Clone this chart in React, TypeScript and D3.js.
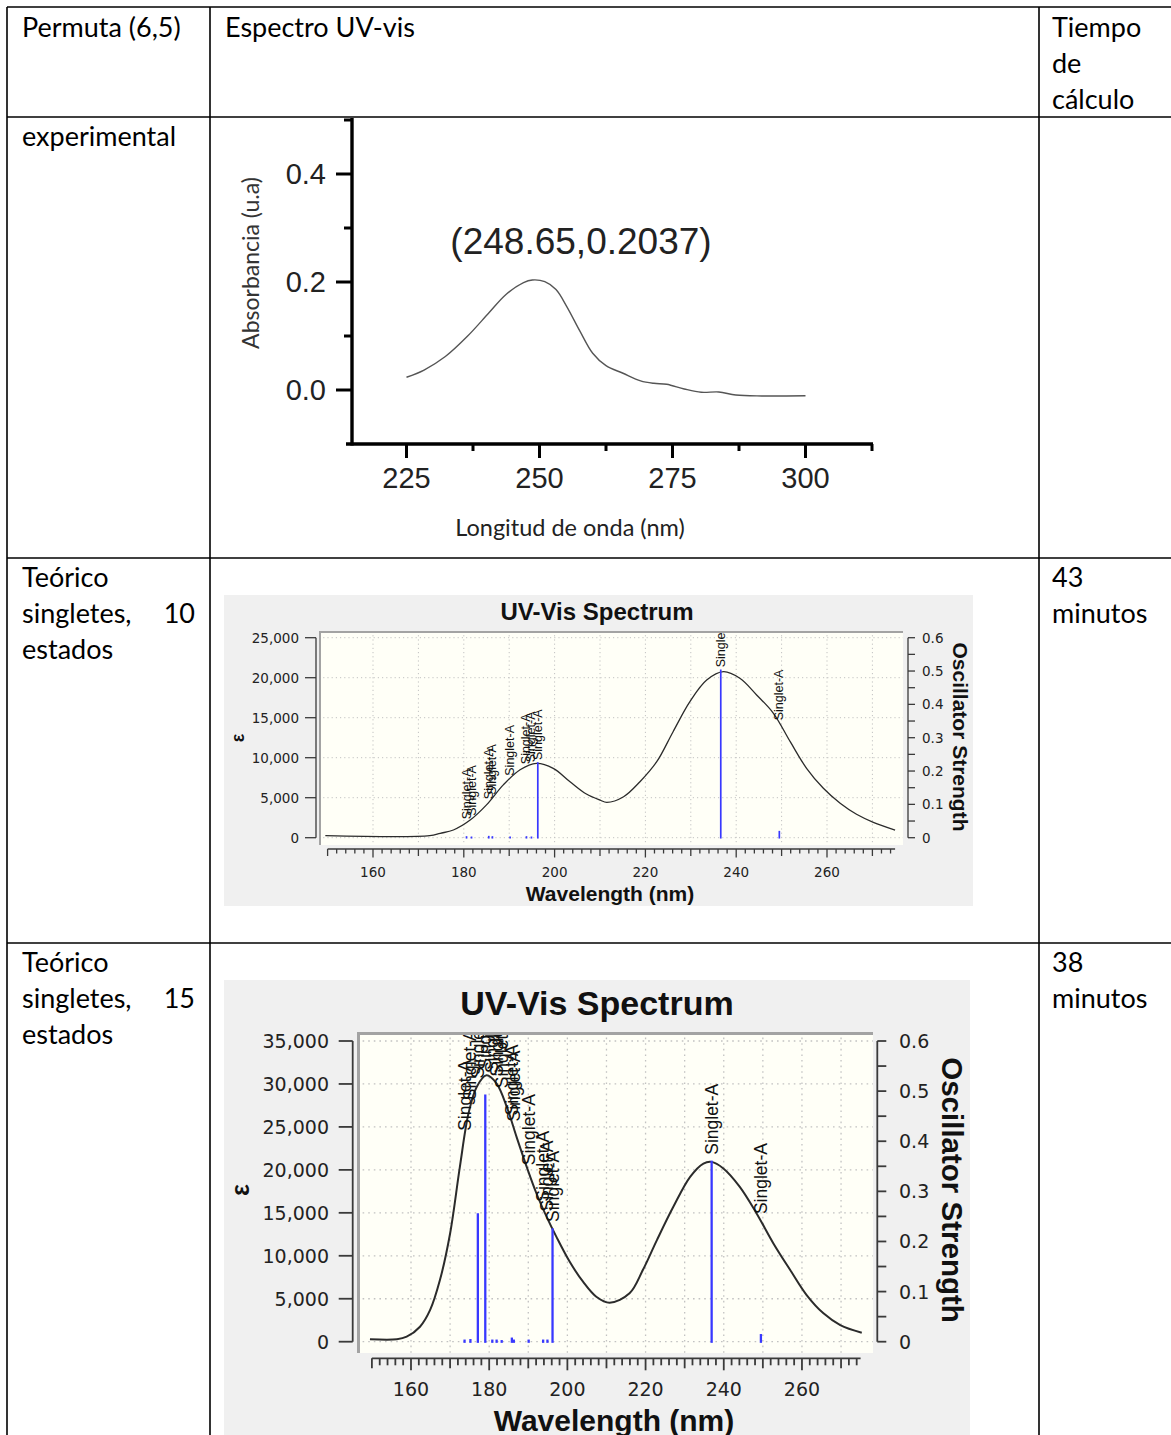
import * as d3 from "d3";
import { useEffect, useRef } from "react";

const WIDTH = 1171;
const HEIGHT = 1435;

// tabla
const colLines = [7, 210, 1039];
const rowLines = [7, 117, 558, 943];
const headerTexts = [["Permuta (6,5)"], ["Espectro UV-vis"], ["Tiempo", "de", "cálculo"]];
const rowTitles = [["experimental"], ["Teórico", "singletes,", "estados"], ["Teórico", "singletes,", "estados"]];
const rowStates = ["", "10", "15"];
const rowTimes = [[], ["43", "minutos"], ["38", "minutos"]];

// espectro experimental
const expWavelength = [225, 228.3, 232.3, 236.4, 240.5, 243.7, 247, 248.65, 251, 253.1, 255.1, 257.6, 260, 262.5, 265.7, 269, 271.5, 273.9, 277.2, 280.4, 283.7, 286.9, 291.8, 300];
const expAbsorbance = [0.0236, 0.037, 0.062, 0.099, 0.143, 0.177, 0.199, 0.2037, 0.2006, 0.186, 0.155, 0.109, 0.068, 0.045, 0.031, 0.017, 0.0124, 0.0106, 0.0019, -0.0043, -0.0037, -0.0093, -0.011, -0.0106];
const expYTicks = [0, 0.2, 0.4];
const expYMinor = [0.1, 0.3, 0.5];
const expXTicks = [225, 250, 275, 300];
const expXMinor = [237.5, 262.5, 287.5, 312.5];
const expPeakLabel = "(248.65,0.2037)";

// 10 estados
const wl10 = [149.5, 172.5, 174.8, 177.7, 181.4, 185, 188.7, 192.4, 196, 199.7, 203.4, 207, 210, 211.5, 215.2, 218.8, 222.5, 226.1, 229.8, 233.5, 237.2, 240.8, 244.5, 248.2, 251.9, 255.5, 259.2, 262.9, 266.5, 270.2, 275];
const eps10 = [250, 250, 550, 960, 2200, 4100, 6600, 8500, 9300, 8675, 7000, 5460, 4700, 4420, 5125, 7000, 9500, 13250, 17000, 19700, 20750, 19925, 17840, 15550, 12000, 8675, 6175, 4300, 2925, 1925, 960];
const stickWl10 = [180.6, 181.7, 185.5, 186.3, 190.2, 193.8, 194.9, 196.3, 236.6, 249.5];
const stickF10 = [0.002, 0.001, 0.003, 0.002, 0.001, 0.002, 0.001, 0.224, 0.502, 0.018];
const epsTicks10 = [0, 5000, 10000, 15000, 20000, 25000];

// 15 estados
const wl15 = [149.5, 156.4, 158.9, 162.3, 164.9, 167.4, 170, 172.5, 174.7, 176.8, 179.3, 181.9, 184.5, 187, 189.6, 192.1, 194.7, 197.2, 200.6, 204, 207.4, 210.8, 215.9, 219.3, 222.9, 227.1, 231.4, 234.8, 236.9, 239.9, 244.1, 248.4, 252.7, 257, 261.2, 265.5, 269.8, 275.3];
const eps15 = [280, 280, 580, 1745, 3700, 7170, 12600, 20350, 26550, 29650, 31000, 30050, 27330, 23840, 20350, 17250, 14530, 12200, 9300, 6980, 5230, 4535, 5630, 8340, 11830, 15700, 19190, 20740, 20930, 20160, 18020, 14930, 11440, 8340, 5430, 3300, 1940, 1050];
const stickWl15 = [173.7, 175.2, 177.1, 179.0, 180.8, 181.9, 183.2, 185.8, 186.3, 190.1, 193.8, 194.9, 196.2, 236.9, 249.5];
const stickF15 = [0.002, 0.003, 0.254, 0.491, 0.002, 0.002, 0.001, 0.006, 0.002, 0.002, 0.002, 0.002, 0.224, 0.359, 0.013];
const epsTicks15 = [0, 5000, 10000, 15000, 20000, 25000, 30000, 35000];

const oscTicks = [0, 0.1, 0.2, 0.3, 0.4, 0.5, 0.6];
const wlTicks = [160, 180, 200, 220, 240, 260];

const tableFont = "Lato, 'Open Sans', sans-serif";
const arial = "'Liberation Sans', Arial, sans-serif";
const tahoma = "'DejaVu Sans', Verdana, sans-serif";

function interp(xs, ys, v) {
    const i = d3.bisectLeft(xs, v);
    if (i <= 0) return ys[0];
    if (i >= xs.length) return ys[ys.length - 1];
    const t = (v - xs[i - 1]) / (xs[i] - xs[i - 1]);
    return ys[i - 1] + t * (ys[i] - ys[i - 1]);
}

function drawTable(svg) {
    const g = svg.append("g");
    g.selectAll("line.col").data(colLines).join("line").attr("class", "col")
        .attr("x1", d => d).attr("x2", d => d).attr("y1", 7).attr("y2", HEIGHT)
        .attr("stroke", "#000").attr("stroke-width", 1.6);
    g.selectAll("line.row").data(rowLines).join("line").attr("class", "row")
        .attr("x1", 7).attr("x2", WIDTH).attr("y1", d => d).attr("y2", d => d)
        .attr("stroke", "#000").attr("stroke-width", 1.6);

    const txt = (x, y, s, anchor = "start") => g.append("text")
        .attr("x", x).attr("y", y).attr("text-anchor", anchor)
        .attr("font-family", tableFont).attr("font-size", 27).attr("fill", "#000").text(s);

    const headX = [22, 225, 1052];
    headerTexts.forEach((lines, i) => lines.forEach((s, j) => txt(headX[i], 37 + j * 36, s)));
    rowTitles.forEach((lines, i) => {
        const top = rowLines[i + 1] + 29;
        lines.forEach((s, j) => txt(22, top + j * 36, s));
        if (rowStates[i]) txt(195, top + 36, rowStates[i], "end");
        rowTimes[i].forEach((s, j) => txt(1052, top + j * 36, s));
    });
}

function drawExperimental(svg) {
    const g = svg.append("g");
    const x = d3.scaleLinear().domain([225, 300]).range([406.5, 805.5]);
    const y = d3.scaleLinear().domain([-0.1, 0.5]).range([444, 120]);
    const axisX = 352;

    const line = d3.line().x(d => x(d[0])).y(d => y(d[1])).curve(d3.curveCatmullRom.alpha(0.5));
    g.append("path").datum(expWavelength.map((w, i) => [w, expAbsorbance[i]]))
        .attr("d", line).attr("fill", "none").attr("stroke", "#555").attr("stroke-width", 1.4);

    // ejes
    g.append("line").attr("x1", axisX).attr("x2", axisX).attr("y1", 118).attr("y2", y(-0.1) + 1.5)
        .attr("stroke", "#000").attr("stroke-width", 3.4);
    g.append("line").attr("x1", 346).attr("x2", x(312.5) + 1).attr("y1", y(-0.1)).attr("y2", y(-0.1))
        .attr("stroke", "#000").attr("stroke-width", 3.4);
    g.selectAll("line.ym").data(expYTicks).join("line").attr("class", "ym")
        .attr("x1", axisX - 16).attr("x2", axisX).attr("y1", d => y(d)).attr("y2", d => y(d))
        .attr("stroke", "#000").attr("stroke-width", 3);
    g.selectAll("line.yn").data(expYMinor).join("line").attr("class", "yn")
        .attr("x1", axisX - 8).attr("x2", axisX).attr("y1", d => y(d)).attr("y2", d => y(d))
        .attr("stroke", "#000").attr("stroke-width", 3);
    g.selectAll("line.xm").data(expXTicks).join("line").attr("class", "xm")
        .attr("x1", d => x(d)).attr("x2", d => x(d)).attr("y1", y(-0.1)).attr("y2", y(-0.1) + 14)
        .attr("stroke", "#000").attr("stroke-width", 3);
    g.selectAll("line.xn").data(expXMinor).join("line").attr("class", "xn")
        .attr("x1", d => x(d)).attr("x2", d => x(d)).attr("y1", y(-0.1)).attr("y2", y(-0.1) + 7)
        .attr("stroke", "#000").attr("stroke-width", 3);

    g.selectAll("text.yl").data(expYTicks).join("text").attr("class", "yl")
        .attr("x", 326).attr("y", d => y(d)).attr("text-anchor", "end").attr("dominant-baseline", "central")
        .attr("font-family", arial).attr("font-size", 29).attr("fill", "#222").text(d => d3.format(".1f")(d));
    g.selectAll("text.xl").data(expXTicks).join("text").attr("class", "xl")
        .attr("x", d => x(d)).attr("y", 478).attr("text-anchor", "middle").attr("dominant-baseline", "central")
        .attr("font-family", arial).attr("font-size", 29).attr("fill", "#222").text(d => d);

    g.append("text").attr("x", 581).attr("y", 241).attr("text-anchor", "middle").attr("dominant-baseline", "central")
        .attr("font-family", arial).attr("font-size", 37).attr("fill", "#222").text(expPeakLabel);
    g.append("text").attr("transform", "translate(250,263) rotate(-90)").attr("text-anchor", "middle")
        .attr("dominant-baseline", "central").attr("font-family", tableFont).attr("font-size", 23)
        .attr("fill", "#333").text("Absorbancia (u.a)");
    g.append("text").attr("x", 570).attr("y", 527).attr("text-anchor", "middle").attr("dominant-baseline", "central")
        .attr("font-family", tableFont).attr("font-size", 23.5).attr("fill", "#222").text("Longitud de onda (nm)");
}

function drawSpectrum(svg, c) {
    const g = svg.append("g");
    const x = d3.scaleLinear().domain([150, 275]).range(c.xRange);
    const yE = d3.scaleLinear().domain([0, c.epsMax]).range([c.yZero, c.yTop]);
    const yF = d3.scaleLinear().domain([0, 0.6]).range([c.yZero, c.yTop]);
    const [px0, py0, px1, py1] = c.plot;
    const [bx0, by0, bx1, by1] = c.panel;

    g.append("rect").attr("x", bx0).attr("y", by0).attr("width", bx1 - bx0).attr("height", by1 - by0).attr("fill", "#f0f0f0");
    g.append("rect").attr("x", px0).attr("y", py0).attr("width", px1 - px0).attr("height", py1 - py0).attr("fill", "#fffff7");

    const clipId = "clip-" + c.id;
    g.append("clipPath").attr("id", clipId).append("rect")
        .attr("x", px0).attr("y", py0).attr("width", px1 - px0).attr("height", py1 - py0);

    const grid = g.append("g").attr("stroke", "#c2c2c2").attr("stroke-width", c.gridW).attr("stroke-dasharray", c.gridDash);
    grid.selectAll("line.v").data(d3.range(160, 275, 10)).join("line").attr("class", "v")
        .attr("x1", d => x(d)).attr("x2", d => x(d)).attr("y1", py0).attr("y2", py1);
    grid.selectAll("line.h").data(c.epsTicks).join("line").attr("class", "h")
        .attr("x1", px0).attr("x2", px1).attr("y1", d => yE(d)).attr("y2", d => yE(d));

    const line = d3.line().x(d => x(d[0])).y(d => yE(d[1])).curve(d3.curveCatmullRom.alpha(0.5));
    g.append("path").datum(c.wl.map((w, i) => [w, c.eps[i]])).attr("d", line)
        .attr("fill", "none").attr("stroke", "#2b2b2b").attr("stroke-width", c.curveW)
        .attr("clip-path", `url(#${clipId})`);

    g.append("g").selectAll("line").data(c.stickWl).join("line")
        .attr("x1", d => x(d)).attr("x2", d => x(d)).attr("y1", yF(0)).attr("y2", (d, i) => yF(c.stickF[i]))
        .attr("stroke", "#3838ff").attr("stroke-width", c.stickW).attr("stroke-linecap", "square");

    g.append("g").attr("clip-path", `url(#${clipId})`).selectAll("text").data(c.stickWl).join("text")
        .attr("transform", (d, i) => {
            const top = Math.min(yE(interp(c.wl, c.eps, d)), yF(c.stickF[i])) - c.labelGap;
            return `translate(${x(d)},${top}) rotate(-90)`;
        })
        .attr("dominant-baseline", "central").attr("font-family", arial).attr("font-size", c.labelFont)
        .attr("fill", "#111").text("Singlet-A");

    g.append("path").attr("d", `M${px0 + c.borderW / 2},${py1} V${py0 + c.borderW / 2} H${px1}`)
        .attr("fill", "none").attr("stroke", "#a3a3a3").attr("stroke-width", c.borderW);

    const axisColor = "#3a3a3a";
    // eje izquierdo
    g.append("line").attr("x1", c.leftX).attr("x2", c.leftX).attr("y1", yE(0)).attr("y2", yE(c.epsMax))
        .attr("stroke", axisColor).attr("stroke-width", c.axisW);
    g.selectAll("line.lt").data(c.epsTicks).join("line").attr("class", "lt")
        .attr("x1", c.leftX - c.leftTick).attr("x2", c.leftX).attr("y1", d => yE(d)).attr("y2", d => yE(d))
        .attr("stroke", axisColor).attr("stroke-width", c.axisW);
    g.selectAll("text.ll").data(c.epsTicks).join("text").attr("class", "ll")
        .attr("x", c.leftLabelX).attr("y", d => yE(d)).attr("text-anchor", "end").attr("dominant-baseline", "central")
        .attr("font-family", tahoma).attr("font-size", c.tickFont).attr("fill", "#222").text(d => d3.format(",")(d));

    // eje derecho
    g.append("line").attr("x1", c.rightX).attr("x2", c.rightX).attr("y1", yF(0)).attr("y2", yF(0.6))
        .attr("stroke", axisColor).attr("stroke-width", c.axisW);
    g.selectAll("line.rt").data(d3.range(0, 0.601, 0.05)).join("line").attr("class", "rt")
        .attr("x1", c.rightX).attr("x2", c.rightX + c.rightTick).attr("y1", d => yF(d)).attr("y2", d => yF(d))
        .attr("stroke", axisColor).attr("stroke-width", c.axisW);
    g.selectAll("text.rl").data(oscTicks).join("text").attr("class", "rl")
        .attr("x", c.rightLabelX).attr("y", d => yF(d)).attr("dominant-baseline", "central")
        .attr("font-family", tahoma).attr("font-size", c.tickFont).attr("fill", "#222")
        .text(d => (d === 0 ? "0" : d.toFixed(1)));

    // eje inferior
    g.append("line").attr("x1", x(150)).attr("x2", x(275)).attr("y1", c.bottomY).attr("y2", c.bottomY)
        .attr("stroke", axisColor).attr("stroke-width", c.axisW);
    g.selectAll("line.bt").data(d3.range(150, 275, 2)).join("line").attr("class", "bt")
        .attr("x1", d => x(d)).attr("x2", d => x(d)).attr("y1", c.bottomY)
        .attr("y2", d => c.bottomY + (d % 20 === 0 ? c.majorTick : d % 10 === 0 ? c.midTick : c.minorTick))
        .attr("stroke", axisColor).attr("stroke-width", c.axisW);
    g.selectAll("text.bl").data(wlTicks).join("text").attr("class", "bl")
        .attr("x", d => x(d)).attr("y", c.bottomLabelY).attr("text-anchor", "middle").attr("dominant-baseline", "central")
        .attr("font-family", tahoma).attr("font-size", c.tickFont).attr("fill", "#222").text(d => d);

    g.append("text").attr("x", c.title[0]).attr("y", c.title[1]).attr("text-anchor", "middle")
        .attr("dominant-baseline", "central").attr("font-family", arial).attr("font-weight", "bold")
        .attr("font-size", c.title[2]).attr("fill", "#111").text("UV-Vis Spectrum");
    g.append("text").attr("x", c.xTitle[0]).attr("y", c.xTitle[1]).attr("text-anchor", "middle")
        .attr("dominant-baseline", "central").attr("font-family", arial).attr("font-weight", "bold")
        .attr("font-size", c.xTitle[2]).attr("fill", "#111").text("Wavelength (nm)");
    g.append("text").attr("transform", `translate(${c.epsTitle[0]},${c.epsTitle[1]}) rotate(-90)`)
        .attr("text-anchor", "middle").attr("dominant-baseline", "central").attr("font-family", arial)
        .attr("font-weight", "bold").attr("font-size", c.epsTitle[2]).attr("fill", "#111").text("ε");
    g.append("text").attr("transform", `translate(${c.oscTitle[0]},${c.oscTitle[1]}) rotate(90)`)
        .attr("text-anchor", "middle").attr("dominant-baseline", "central").attr("font-family", arial)
        .attr("font-weight", "bold").attr("font-size", c.oscTitle[2]).attr("fill", "#111").text("Oscillator Strength");
}

const App = () => {
    const ref = useRef(null);

    useEffect(() => {
        const svg = d3.select(ref.current);
        svg.selectAll("*").remove();
        svg.append("rect").attr("width", WIDTH).attr("height", HEIGHT).attr("fill", "#fff");

        drawExperimental(svg);

        drawSpectrum(svg, {
            id: "s10", wl: wl10, eps: eps10, stickWl: stickWl10, stickF: stickF10,
            epsMax: 25000, epsTicks: epsTicks10,
            panel: [224, 595, 973, 906], plot: [319, 631, 903, 845],
            xRange: [327.6, 895.1], yZero: 837.7, yTop: 637.7,
            leftX: 316, leftTick: 11, leftLabelX: 299,
            rightX: 908, rightTick: 7, rightLabelX: 922,
            bottomY: 849, majorTick: 8.5, midTick: 7, minorTick: 4.5, bottomLabelY: 872,
            tickFont: 13.5, labelFont: 12.5, labelGap: 3,
            title: [597, 611, 24], xTitle: [610, 893, 21], epsTitle: [238, 738, 18], oscTitle: [960, 737, 21],
            curveW: 1.3, stickW: 1.7, gridW: 1, gridDash: "1.2 3", borderW: 2, axisW: 1.3,
        });

        drawSpectrum(svg, {
            id: "s15", wl: wl15, eps: eps15, stickWl: stickWl15, stickF: stickF15,
            epsMax: 35000, epsTicks: epsTicks15,
            panel: [224, 980, 970, 1435], plot: [357, 1032, 873, 1353],
            xRange: [371.9, 860.6], yZero: 1341.7, yTop: 1041,
            leftX: 352.7, leftTick: 14, leftLabelX: 329,
            rightX: 877.3, rightTick: 9, rightLabelX: 899,
            bottomY: 1358.3, majorTick: 12, midTick: 10, minorTick: 7, bottomLabelY: 1389,
            tickFont: 19, labelFont: 17.5, labelGap: 7,
            title: [597, 1003, 34], xTitle: [614, 1420, 30], epsTitle: [240, 1190, 25], oscTitle: [952, 1190, 29.5],
            curveW: 2, stickW: 2.3, gridW: 1.3, gridDash: "1.6 4", borderW: 3, axisW: 1.8,
        });

        drawTable(svg);
    }, []);

    return (
        <svg ref={ref} width={WIDTH} height={HEIGHT}
            style={{ position: "absolute", left: 0, top: 0, display: "block" }}></svg>
    );
};

export default App;
